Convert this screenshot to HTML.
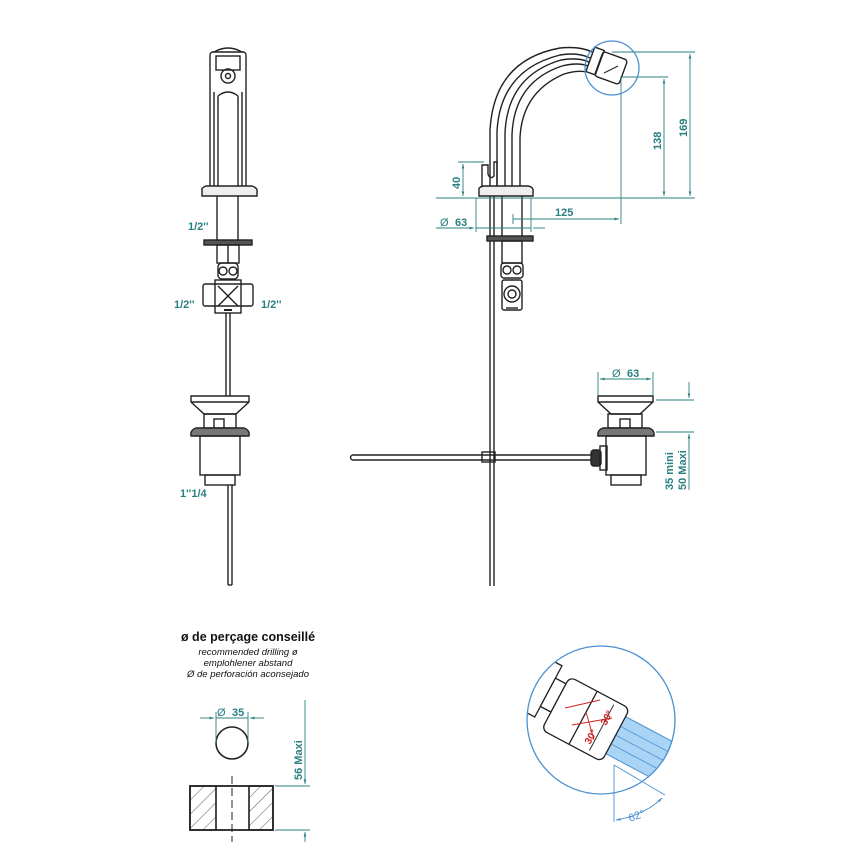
<!DOCTYPE html>
<html><head><style>body{margin:0;background:#fff}svg{display:block}</style></head>
<body>
<svg width="857" height="857" viewBox="0 0 857 857" xmlns="http://www.w3.org/2000/svg" font-family="Liberation Sans, sans-serif">
<defs>
<marker id="a" viewBox="0 0 10 10" refX="10" refY="5" markerWidth="7" markerHeight="5" orient="auto-start-reverse"><path d="M0,2L10,5L0,8z" fill="#2a8080"/></marker>
<marker id="b" viewBox="0 0 10 10" refX="10" refY="5" markerWidth="7" markerHeight="5" orient="auto-start-reverse"><path d="M0,2L10,5L0,8z" fill="#4a8fd0"/></marker>
<pattern id="h" width="10" height="10" patternUnits="userSpaceOnUse" patternTransform="rotate(45)"><line x1="0" y1="0" x2="0" y2="10" stroke="#333" stroke-width="0.8"/></pattern>
</defs>
<g fill="none" stroke="#222" stroke-width="1.4">
<!-- LEFT VIEW -->
<rect x="210" y="52" width="36" height="136" rx="3"/>
<path d="M214 52 Q228 44 242 52"/>
<rect x="216" y="56" width="24" height="14"/>
<circle cx="228" cy="76" r="7"/>
<circle cx="228" cy="76" r="2.5"/>
<line x1="214" y1="92" x2="214" y2="186"/><line x1="218" y1="96" x2="218" y2="186"/>
<line x1="238" y1="96" x2="238" y2="186"/><line x1="242" y1="92" x2="242" y2="186"/>
<path d="M218 96 Q228 88 238 96"/>
<path d="M202 190 Q201 188 206 186 L252 186 Q258 188 257 192 L257 196 L202 196z" fill="#eee"/>
<line x1="217" y1="196" x2="217" y2="240"/><line x1="238" y1="196" x2="238" y2="240"/>
<rect x="204" y="240" width="48" height="5" fill="#555"/>
<rect x="217" y="245" width="22" height="18"/>
<line x1="228" y1="245" x2="228" y2="263"/>
<rect x="218" y="263" width="20" height="16" rx="4"/>
<circle cx="223" cy="271" r="4"/><circle cx="233" cy="271" r="4"/>
<rect x="203" y="284" width="50" height="22" rx="2"/>
<rect x="215" y="280" width="26" height="33"/>
<line x1="218" y1="286" x2="238" y2="306"/><line x1="238" y1="286" x2="218" y2="306"/>
<line x1="224" y1="310" x2="232" y2="310" stroke-width="2"/>
<line x1="226" y1="313" x2="226" y2="396"/><line x1="230" y1="313" x2="230" y2="396"/>
<!-- left waste -->
<path d="M191 396 L249 396 L249 402 L236 414 L204 414 L191 402z"/>
<line x1="191" y1="402" x2="249" y2="402"/>
<rect x="204" y="414" width="32" height="14"/>
<rect x="214" y="419" width="10" height="10"/>
<path d="M191 436 Q190 430 196 428 L244 428 Q250 430 249 436z" fill="#777"/>
<rect x="200" y="436" width="40" height="39"/>
<rect x="205" y="475" width="30" height="10"/>
<line x1="228" y1="485" x2="228" y2="585"/><line x1="232" y1="485" x2="232" y2="585"/>
<line x1="228" y1="585" x2="232" y2="585"/>

<!-- RIGHT VIEW spout -->
<path d="M490 188 L490 130 Q494 60 560 48 Q580 46 592 52"/>
<path d="M497 188 L497 132 Q500 70 560 55 Q578 52 590 58"/>
<path d="M512 188 L512 135 Q514 82 562 66 Q578 62 588 66"/>
<path d="M520 188 L520 138 Q522 92 564 74 Q578 70 586 72"/>
<path d="M505 188 L505 134 Q507 76 561 60 Q578 57 589 62"/>
<rect x="590" y="48" width="10" height="26" transform="rotate(20 595 61)"/>
<rect x="598" y="55" width="26" height="26" rx="3" transform="rotate(20 611 68)"/>
<line x1="604" y1="73" x2="618" y2="66" stroke-width="1"/>
<path d="M482 188 L482 165 L488 165 L488 174 Q490 180 494 176 L494 162 L497 162 L497 188"/>
<path d="M479 190 Q478 187 484 186 L528 186 Q534 187 533 192 L533 196 L479 196z" fill="#eee"/>
<line x1="490" y1="196" x2="490" y2="586"/><line x1="494" y1="196" x2="494" y2="586"/>
<line x1="502" y1="196" x2="502" y2="236"/><line x1="522" y1="196" x2="522" y2="236"/>
<rect x="487" y="236" width="46" height="5" fill="#555"/>
<rect x="502" y="241" width="20" height="22"/>
<rect x="501" y="263" width="22" height="15" rx="3"/>
<circle cx="507" cy="270" r="4"/><circle cx="517" cy="270" r="4"/>
<rect x="502" y="280" width="20" height="30" rx="2"/>
<circle cx="512" cy="294" r="8"/><circle cx="512" cy="294" r="4"/>
<line x1="506" y1="308" x2="518" y2="308"/>
<!-- horizontal rod -->
<path d="M352 455 L595 455 M352 460 L595 460 M352 455 Q349 457.5 352 460"/>
<rect x="482" y="452" width="13" height="10"/>
<!-- right waste -->
<path d="M598 396 L653 396 L653 402 L640 414 L611 414 L598 402z"/>
<line x1="598" y1="402" x2="653" y2="402"/>
<rect x="608" y="414" width="34" height="14"/>
<rect x="620" y="419" width="10" height="10"/>
<path d="M598 436 Q597 430 603 428 L649 428 Q655 430 654 436z" fill="#777"/>
<rect x="606" y="436" width="40" height="39"/>
<rect x="611" y="475" width="30" height="10"/>
<rect x="591" y="450" width="10" height="16" rx="3" fill="#333"/>
<rect x="600" y="446" width="7" height="24"/>

<!-- drilling -->
<circle cx="232" cy="743" r="16" stroke-width="1.6"/>
<rect x="190" y="786" width="26" height="44" fill="url(#h)"/>
<rect x="249" y="786" width="24" height="44" fill="url(#h)"/>
<rect x="190" y="786" width="83" height="44" stroke-width="1.8"/>
<line x1="216" y1="786" x2="216" y2="830"/><line x1="249" y1="786" x2="249" y2="830"/>
<line x1="232" y1="776" x2="232" y2="842" stroke-dasharray="8 4" stroke-width="1"/>
</g>

<!-- dimensions teal -->
<g stroke="#2a8080" stroke-width="0.9" fill="none">
<line x1="463" y1="164" x2="463" y2="196" marker-start="url(#a)" marker-end="url(#a)"/>
<line x1="458" y1="162" x2="484" y2="162"/>
<line x1="436" y1="198" x2="695" y2="198"/>
<line x1="612" y1="52" x2="695" y2="52"/>
<line x1="620" y1="77" x2="668" y2="77"/>
<line x1="690" y1="54" x2="690" y2="196" marker-start="url(#a)" marker-end="url(#a)"/>
<line x1="664" y1="79" x2="664" y2="196" marker-start="url(#a)" marker-end="url(#a)"/>
<line x1="621" y1="77" x2="621" y2="224"/>
<line x1="513" y1="219" x2="619" y2="219" marker-end="url(#a)"/>
<line x1="513" y1="214" x2="513" y2="224"/>
<line x1="476" y1="198" x2="476" y2="232"/><line x1="531" y1="198" x2="531" y2="232"/>
<line x1="436" y1="228" x2="474" y2="228" marker-end="url(#a)"/>
<line x1="533" y1="228" x2="545" y2="228"/>
<line x1="476" y1="228" x2="531" y2="228"/>
<line x1="598" y1="372" x2="598" y2="396"/><line x1="653" y1="372" x2="653" y2="396"/>
<line x1="600" y1="379" x2="651" y2="379" marker-start="url(#a)" marker-end="url(#a)"/>
<line x1="656" y1="400" x2="694" y2="400"/><line x1="656" y1="432" x2="694" y2="432"/>
<line x1="689" y1="382" x2="689" y2="398" marker-end="url(#a)"/>
<line x1="689" y1="434" x2="689" y2="490"/>
<line x1="689" y1="434" x2="689" y2="450" marker-start="url(#a)"/>
<line x1="200" y1="718" x2="214" y2="718" marker-end="url(#a)"/>
<line x1="250" y1="718" x2="264" y2="718" marker-start="url(#a)"/>
<line x1="216" y1="718" x2="248" y2="718"/>
<line x1="216" y1="712" x2="216" y2="743"/><line x1="248" y1="712" x2="248" y2="743"/>
<line x1="275" y1="786" x2="310" y2="786"/><line x1="275" y1="830" x2="310" y2="830"/>
<line x1="305" y1="700" x2="305" y2="784" marker-end="url(#a)"/>
<line x1="305" y1="832" x2="305" y2="842" marker-start="url(#a)"/>
</g>
<g fill="#2a7f80" font-weight="bold" font-size="11">
<text x="188" y="230">1/2''</text>
<text x="174" y="308">1/2''</text>
<text x="261" y="308">1/2''</text>
<text x="180" y="497">1''1/4</text>
<text transform="translate(460,189) rotate(-90)">40</text>
<text transform="translate(687,137) rotate(-90)">169</text>
<text transform="translate(661,150) rotate(-90)">138</text>
<text x="555" y="216">125</text>
<text x="440" y="226" font-weight="normal">Ø</text><text x="455" y="226">63</text>
<text x="612" y="377" font-weight="normal">Ø</text><text x="627" y="377">63</text>
<text transform="translate(673,490) rotate(-90)">35  mini</text>
<text transform="translate(686,490) rotate(-90)">50 Maxi</text>
<text x="217" y="716" font-weight="normal">Ø</text><text x="232" y="716">35</text>
<text transform="translate(302,780) rotate(-90)">56  Maxi</text>
</g>
<g text-anchor="middle" fill="#111">
<text x="248" y="641" font-weight="bold" font-size="12.5">ø de perçage conseillé</text>
<text x="248" y="655" font-style="italic" font-size="9.5">recommended drilling ø</text>
<text x="248" y="666" font-style="italic" font-size="9.5">emplohlener abstand</text>
<text x="248" y="677" font-style="italic" font-size="9.5">Ø de perforación aconsejado</text>
</g>

<!-- blue highlight circle -->
<circle cx="612" cy="68" r="27" fill="none" stroke="#4a90d0" stroke-width="1.3"/>

<!-- detail circle -->
<clipPath id="c"><circle cx="601" cy="720" r="74"/></clipPath>
<g clip-path="url(#c)">
<g transform="rotate(28 600 720)">
<rect x="618" y="705" width="90" height="42" fill="#aad4f5" stroke="#4a90d0"/>
<g stroke="#4a90d0" stroke-width="0.8"><line x1="618" y1="716" x2="708" y2="716"/><line x1="618" y1="726" x2="708" y2="726"/><line x1="618" y1="736" x2="708" y2="736"/></g>
<g fill="#fff" stroke="#222" stroke-width="1.3">
<rect x="490" y="694" width="40" height="36"/>
<rect x="525" y="690" width="16" height="58"/>
<rect x="541" y="704" width="12" height="32"/>
<rect x="553" y="696" width="68" height="60" rx="6"/>
<line x1="584" y1="696" x2="584" y2="756"/>
<line x1="605" y1="700" x2="605" y2="752" stroke-width="0.9"/>
</g>
</g>
<g stroke="#d02020" stroke-width="0.9" fill="none">
<line x1="565" y1="708" x2="600" y2="700"/><line x1="572" y1="725" x2="612" y2="718"/>
<line x1="586" y1="712" x2="594" y2="740"/>
</g>
<g fill="#d02020" font-size="10" font-weight="bold">
<text transform="translate(590,745) rotate(-60)">30°</text>
<text transform="translate(606,726) rotate(-60)">30°</text>
</g>
</g>
<circle cx="601" cy="720" r="74" fill="none" stroke="#4a90d0" stroke-width="1.3"/>
<g stroke="#4a90d0" stroke-width="0.9" fill="none">
<line x1="614" y1="765" x2="614" y2="822"/>
<line x1="614" y1="765" x2="665" y2="795"/>
<path d="M616 820 Q645 815 662 798" marker-start="url(#b)" marker-end="url(#b)"/>
</g>
<text transform="translate(630,822) rotate(-20)" fill="#4a90d0" font-size="11">62°</text>
</svg>
</body></html>
